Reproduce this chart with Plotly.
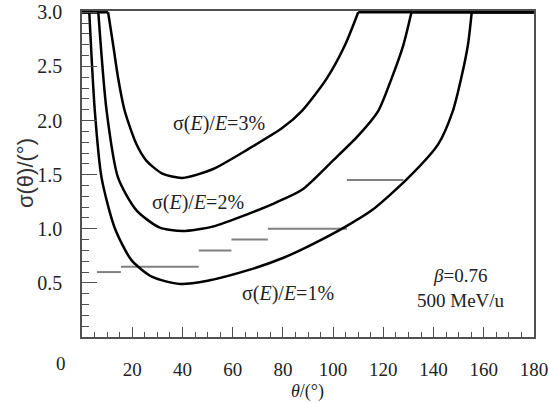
import plotly.graph_objects as go

# ---- data ----
theta_1 = [0, 2.9, 5.1, 7.8, 13, 19.7, 28, 39, 50, 66.5, 80, 90.3, 105, 115.4, 129.9, 141.8, 147.7, 151, 153.7, 155.2, 180]
sigma_1 = [3.0, 3.0, 2.09, 1.47, 1.01, 0.71, 0.555, 0.49, 0.52, 0.62, 0.73, 0.84, 1.02, 1.17, 1.47, 1.78, 2.09, 2.39, 2.70, 3.0, 3.0]

theta_2 = [0, 6.5, 9.8, 14.4, 21.7, 31, 40, 52, 66.5, 77, 87.6, 99.5, 110, 118, 123.3, 128, 131.2, 180]
sigma_2 = [3.0, 3.0, 2.09, 1.47, 1.17, 1.01, 0.98, 1.02, 1.14, 1.24, 1.36, 1.62, 1.86, 2.09, 2.39, 2.70, 3.0, 3.0]

theta_3 = [0, 10.4, 12.4, 14.4, 17, 21.7, 25.6, 32, 40, 52, 66.5, 79.7, 87.6, 97.5, 104.8, 110, 180]
sigma_3 = [3.0, 3.0, 2.70, 2.39, 2.09, 1.78, 1.63, 1.51, 1.47, 1.55, 1.74, 1.93, 2.09, 2.39, 2.70, 3.0, 3.0]

seg_start = [6, 15.5, 46.5, 59.5, 74, 105.5]
seg_end = [15.5, 46.5, 59.5, 74, 105.5, 128]
seg_level = [0.60, 0.65, 0.80, 0.90, 1.00, 1.45]

x_tickvals = [0, 20, 40, 60, 80, 100, 120, 140, 160, 180]
y_tickvals = [0.5, 1.0, 1.5, 2.0, 2.5, 3.0]

SERIF = "Liberation Serif, Times New Roman, serif"
AX = "#505050"
TXT = "#222"

fig = go.Figure()

# gray step segments
sx, sy = [], []
for a, b, v in zip(seg_start, seg_end, seg_level):
    sx += [a, b, None]
    sy += [v, v, None]
fig.add_trace(go.Scatter(x=sx, y=sy, mode="lines",
                         line=dict(color="#808080", width=2), hoverinfo="skip"))

# resolution curves: flat (saturated) parts straight, curved part smoothed
for th, sg in [(theta_1, sigma_1), (theta_2, sigma_2), (theta_3, sigma_3)]:
    i0, i1 = 1, len(th) - 2
    fig.add_trace(go.Scatter(x=th[:i0 + 1], y=sg[:i0 + 1], mode="lines",
                             line=dict(color="black", width=2.5)))
    fig.add_trace(go.Scatter(x=th[i0:i1 + 1], y=sg[i0:i1 + 1], mode="lines",
                             line=dict(color="black", width=2.5, shape="spline", smoothing=0.7)))
    fig.add_trace(go.Scatter(x=th[i1:], y=sg[i1:], mode="lines",
                             line=dict(color="black", width=2.5)))

fig.update_layout(
    width=549, height=403,
    margin=dict(l=82, r=15, t=11, b=66),
    paper_bgcolor="white", plot_bgcolor="white",
    showlegend=False,
    font=dict(family=SERIF, size=19, color=TXT),
)

fig.update_xaxes(
    range=[0, 180], showgrid=False, zeroline=False, automargin=False,
    showline=True, linecolor=AX, linewidth=1.5, mirror=True,
    tickmode="array", tickvals=x_tickvals,
    ticktext=[""] + [str(v) for v in x_tickvals[1:]],
    ticks="inside", ticklen=10, tickwidth=1.2, tickcolor=AX,
    minor=dict(dtick=5, ticks="inside", ticklen=5, tickwidth=1, tickcolor=AX),
    ticklabelstandoff=14,
    tickfont=dict(family=SERIF, size=19, color=TXT),
)
fig.update_yaxes(
    range=[0, 3.012], showgrid=False, zeroline=False, automargin=False,
    showline=True, linecolor=AX, linewidth=1.5, mirror=True,
    tickmode="array", tickvals=y_tickvals,
    ticktext=[f"{v:.1f}" for v in y_tickvals],
    ticks="inside", ticklen=15, tickwidth=1.2, tickcolor=AX,
    minor=dict(dtick=0.1, ticks="inside", ticklen=7, tickwidth=1, tickcolor=AX),
    ticklabelstandoff=14,
    tickfont=dict(family=SERIF, size=20, color=TXT),
)

ann = [
    dict(text="0", x=-0.046, y=0, xref="paper", yref="paper", xanchor="center", yanchor="middle",
         yshift=-26, showarrow=False, font=dict(family=SERIF, size=19, color=TXT)),
    dict(text="<i>θ</i>/(°)", x=0.498, y=-0.166, xref="paper", yref="paper",
         xanchor="center", yanchor="middle", showarrow=False, font=dict(family=SERIF, size=18, color=TXT)),
    dict(text="σ(θ)/(°)", x=-0.126, y=0.503, xref="paper", yref="paper", textangle=-90,
         xanchor="center", yanchor="middle", showarrow=False,
         font=dict(family="Liberation Sans, Arial, sans-serif", size=22, color="#333")),
    dict(text="σ(<i>E</i>)/<i>E</i>=3%", x=54.7, y=1.97, xref="x", yref="y", showarrow=False,
         font=dict(size=20)),
    dict(text="σ(<i>E</i>)/<i>E</i>=2%", x=46.3, y=1.24, xref="x", yref="y", showarrow=False,
         font=dict(size=20)),
    dict(text="σ(<i>E</i>)/<i>E</i>=1%", x=82, y=0.405, xref="x", yref="y", showarrow=False,
         font=dict(size=20)),
    dict(text="<i>β</i>=0.76", x=150.5, y=0.57, xref="x", yref="y", showarrow=False,
         font=dict(size=19)),
    dict(text="500 MeV/u", x=150.9, y=0.34, xref="x", yref="y", showarrow=False,
         font=dict(size=19)),
]
fig.update_layout(annotations=ann)

fig.write_html("out.html", config={"displayModeBar": False},
               post_script="document.body.style.margin='0';document.body.style.padding='0';")
